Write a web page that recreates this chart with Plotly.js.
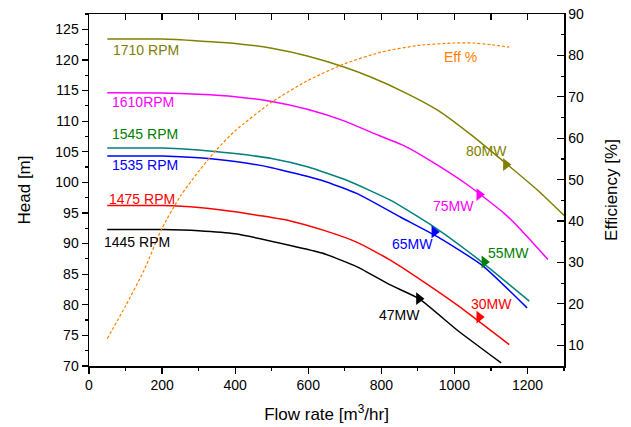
<!DOCTYPE html>
<html>
<head>
<meta charset="utf-8">
<script src="https://cdn.plot.ly/plotly-3.0.1.min.js"></script>
<style>html,body{margin:0;padding:0;background:#fff;}#chart{width:631px;height:427px;}</style>
</head>
<body>
<div id="chart"></div>
<script>
// Head curves (left axis)
const x1710 = [50, 200, 300, 400, 500, 600, 700, 771, 862, 954, 1045, 1137, 1228, 1300];
const h1710 = [123.4, 123.4, 123.1, 122.7, 121.9, 120.6, 118.8, 117.2, 114.75, 111.8, 107.8, 103.3, 98.7, 94.6];
const x1610 = [50, 200, 300, 400, 500, 600, 700, 771, 862, 954, 1045, 1137, 1178, 1256];
const h1610 = [114.65, 114.6, 114.4, 114.0, 113.2, 111.9, 110.0, 108.2, 106.0, 102.8, 99.2, 94.9, 92.5, 87.4];
const x1545 = [50, 200, 300, 400, 500, 600, 707, 826, 945, 1064, 1205];
const h1545 = [105.6, 105.6, 105.3, 104.7, 103.9, 102.5, 100.3, 97.05, 92.7, 87.5, 80.6];
const x1535 = [50, 200, 300, 400, 500, 638, 734, 853, 960, 1077, 1199];
const h1535 = [104.3, 104.3, 104.0, 103.4, 102.4, 100.3, 98.15, 94.3, 90.9, 86.4, 79.5];
const x1475 = [50, 200, 300, 400, 551, 643, 734, 826, 917, 1009, 1150];
const h1475 = [96.2, 96.2, 95.9, 95.2, 93.7, 92.15, 90.2, 87.25, 83.7, 79.9, 73.5];
const x1445 = [50, 200, 300, 400, 551, 638, 734, 826, 903, 1009, 1128];
const h1445 = [92.3, 92.3, 92.1, 91.6, 89.7, 88.45, 86.2, 83.2, 81.0, 75.8, 70.5];

// Efficiency curve (right axis)
const effX = [50, 100, 150, 200, 250, 300, 350, 400, 500, 600, 700, 800, 900, 1000, 1050, 1100, 1150];
const effY = [11.6, 19.5, 28.0, 38.3, 46.0, 52.0, 57.3, 61.8, 68.7, 74.0, 78.0, 80.8, 82.4, 83.0, 83.0, 82.6, 82.0];

// Power operating points (markers)
const powX = [903, 1068, 945, 1082, 1068, 1141];
const powH = [81.0, 78.0, 91.9, 87.0, 98.0, 102.9];
const powLabels = ['47MW', '30MW', '65MW', '55MW', '75MW', '80MW'];
const powColors = ['#000000', '#ff0000', '#0000ff', '#008000', '#ff00ff', '#808000'];

const rpmLabels = ['1710 RPM', '1610RPM', '1545 RPM', '1535 RPM', '1475 RPM', '1445 RPM'];
const rpmColors = ['#808000', '#ff00ff', '#008000', '#0000ff', '#ff0000', '#000000'];

const FONT = '"Liberation Sans", Arial, sans-serif';

function curve(x, y, color) {
  return {x: x, y: y, type: 'scatter', mode: 'lines', line: {color: color, width: 1.5, shape: 'spline', smoothing: 0.5}, xaxis: 'x', yaxis: 'y', hoverinfo: 'skip', showlegend: false};
}

const traces = [
  curve(x1710, h1710, '#808000'),
  curve(x1610, h1610, '#ff00ff'),
  curve(x1545, h1545, '#008080'),
  curve(x1535, h1535, '#0000ff'),
  curve(x1475, h1475, '#ff0000'),
  curve(x1445, h1445, '#000000'),
  {x: effX, y: effY, type: 'scatter', mode: 'lines', line: {color: '#ff8000', width: 1.2, dash: '3px,2px', shape: 'spline', smoothing: 0.6}, xaxis: 'x', yaxis: 'y2', showlegend: false, hoverinfo: 'skip'},
  {x: powX, y: powH, type: 'scatter', mode: 'markers', marker: {symbol: 'triangle-right', size: 11, color: powColors}, xaxis: 'x', yaxis: 'y', showlegend: false, hoverinfo: 'skip'},
  {x: [0], y: [70], type: 'scatter', mode: 'markers', marker: {opacity: 0}, xaxis: 'x2', yaxis: 'y', showlegend: false, hoverinfo: 'skip'}
];

// label placements
const rpmPos = [[60, 121.7], [58, 113.1], [58, 107.85], [58, 102.9], [49, 97.3], [36, 90.25]];
const powPos = [[850, 78.3], [1101, 80.2], [886, 90.0], [1148, 88.4], [997, 96.1], [1089, 105.2]];

const annotations = [];
rpmLabels.forEach((t, i) => annotations.push({x: rpmPos[i][0], y: rpmPos[i][1], xref: 'x', yref: 'y', text: t, showarrow: false, xanchor: 'left', yanchor: 'middle', font: {family: FONT, size: 14, color: rpmColors[i]}}));
powLabels.forEach((t, i) => annotations.push({x: powPos[i][0], y: powPos[i][1], xref: 'x', yref: 'y', text: t, showarrow: false, xanchor: 'center', yanchor: 'middle', font: {family: FONT, size: 14, color: powColors[i]}}));
annotations.push({x: 1018, y: 120.4, xref: 'x', yref: 'y', text: 'Eff %', showarrow: false, xanchor: 'center', yanchor: 'middle', font: {family: FONT, size: 14, color: '#ff8000'}});

const axBase = {showgrid: false, zeroline: false, showline: true, linecolor: '#000', linewidth: 1.5, tickcolor: '#000', tickwidth: 1.2, tickfont: {family: FONT, size: 14, color: '#000'}};

const layout = {
  width: 631, height: 427,
  margin: {l: 89, r: 67, t: 14, b: 61, pad: 0},
  paper_bgcolor: '#fff', plot_bgcolor: '#fff',
  font: {family: FONT, color: '#000'},
  showlegend: false,
  xaxis: Object.assign({}, axBase, {range: [0, 1300], dtick: 200, tick0: 0, ticks: 'outside', ticklen: 6,
    minor: {dtick: 100, ticks: 'outside', ticklen: 3, tickcolor: '#000', tickwidth: 1.2},
    title: {text: 'Flow rate [m<sup>3</sup>/hr]', font: {family: FONT, size: 17, color: '#000'}, standoff: 16}}),
  xaxis2: Object.assign({}, axBase, {range: [0, 1300], dtick: 100, tick0: 0, ticks: 'inside', ticklen: 6, side: 'top', overlaying: 'x', anchor: 'y', showticklabels: false}),
  yaxis: Object.assign({}, axBase, {range: [70, 127.5], dtick: 5, tick0: 70, ticks: 'outside', ticklen: 6,
    minor: {dtick: 2.5, ticks: 'outside', ticklen: 3, tickcolor: '#000', tickwidth: 1.2},
    title: {text: 'Head [m]', font: {family: FONT, size: 17, color: '#000'}, standoff: 20}}),
  yaxis2: Object.assign({}, axBase, {range: [5, 90], dtick: 10, tick0: 0, ticks: 'inside', ticklen: 7, side: 'right', overlaying: 'y', anchor: 'x',
    minor: {dtick: 5, ticks: 'inside', ticklen: 3, tickcolor: '#000', tickwidth: 1.2},
    title: {text: 'Efficiency [%]', font: {family: FONT, size: 17, color: '#000'}, standoff: 22}}),
  annotations: annotations
};

Plotly.newPlot('chart', traces, layout, {displayModeBar: false, staticPlot: true});
</script>
</body>
</html>
